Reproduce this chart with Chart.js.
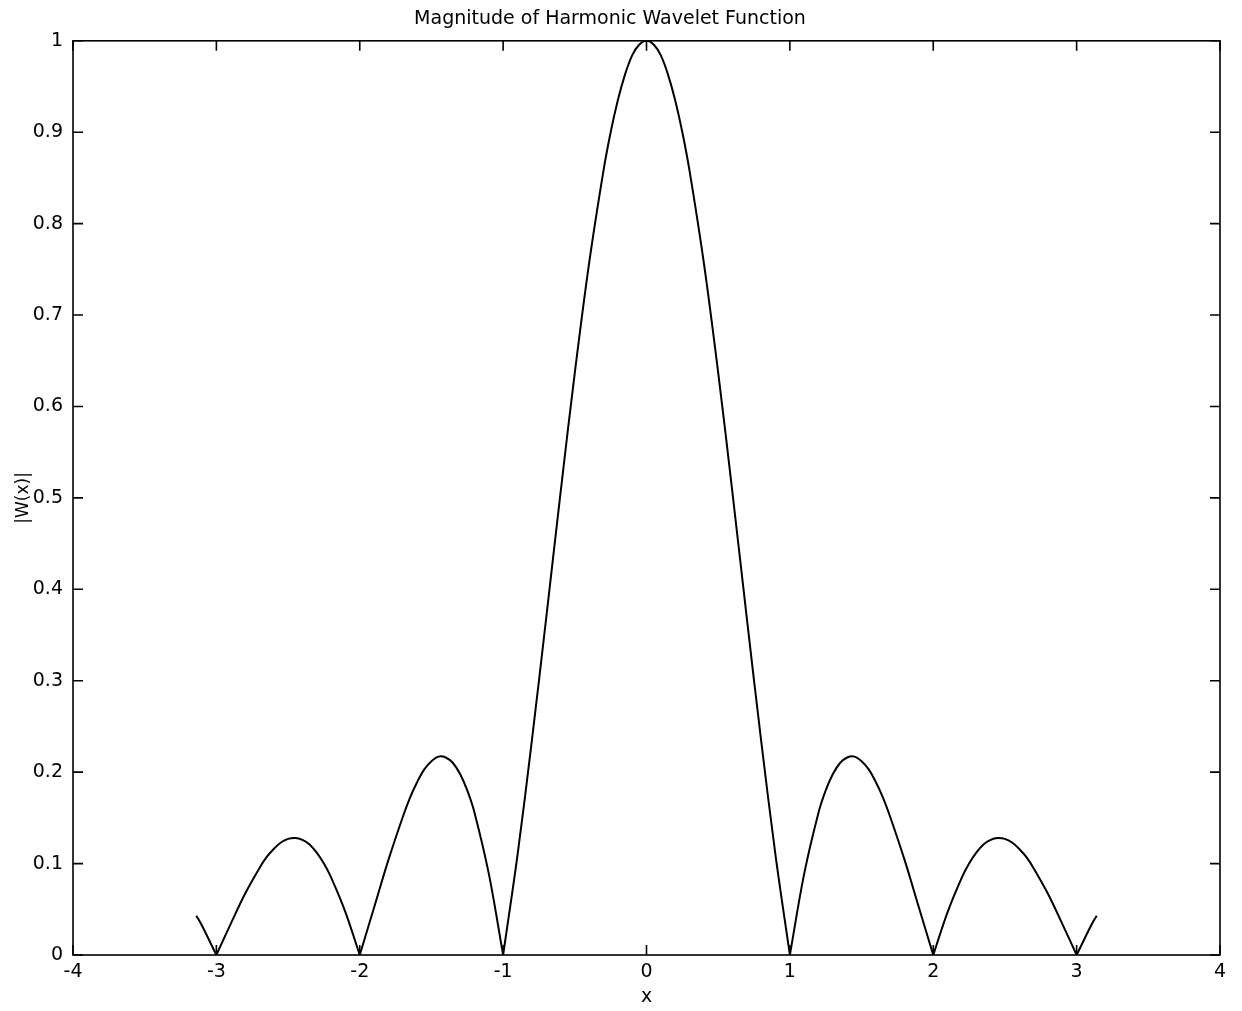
<!DOCTYPE html>
<html>
<head>
<meta charset="utf-8">
<script src="https://cdn.jsdelivr.net/npm/chart.js@4.4.1/dist/chart.umd.min.js"></script>
<style>
  html, body { margin: 0; padding: 0; background: #fff; }
  #wrap { width: 1242px; height: 1011px; }
</style>
</head>
<body>
<div id="wrap"><canvas id="waveletChart"></canvas></div>
<script>
// values
const xValues = [-3.14, -3.1, -3.0, -2.9, -2.8, -2.7, -2.65, -2.6, -2.55, -2.5, -2.45, -2.4, -2.35, -2.3, -2.25, -2.2, -2.1,
  -2.0, -1.9, -1.8, -1.7, -1.65, -1.6, -1.55, -1.5, -1.45, -1.4, -1.35, -1.3, -1.25, -1.2, -1.1,
  -1.0, -0.9, -0.8, -0.7, -0.6, -0.5, -0.4, -0.3, -0.25, -0.2, -0.15, -0.1, -0.05,
  0, 0.05, 0.1, 0.15, 0.2, 0.25, 0.3, 0.4, 0.5, 0.6, 0.7, 0.8, 0.9,
  1.0, 1.1, 1.2, 1.25, 1.3, 1.35, 1.4, 1.45, 1.5, 1.55, 1.6, 1.65, 1.7, 1.8, 1.9,
  2.0, 2.1, 2.2, 2.25, 2.3, 2.35, 2.4, 2.45, 2.5, 2.55, 2.6, 2.65, 2.7, 2.8, 2.9,
  3.0, 3.1, 3.14];
const magnitude = [0.043, 0.032, 0.000, 0.034, 0.067, 0.095, 0.107, 0.116, 0.123, 0.127, 0.128, 0.126, 0.121, 0.112, 0.100, 0.085, 0.047,
  0.000, 0.052, 0.104, 0.151, 0.172, 0.189, 0.203, 0.212, 0.217, 0.216, 0.210, 0.198, 0.180, 0.156, 0.089,
  0.000, 0.109, 0.234, 0.368, 0.505, 0.637, 0.757, 0.858, 0.900, 0.935, 0.963, 0.984, 0.996,
  1.000, 0.996, 0.984, 0.963, 0.935, 0.900, 0.858, 0.757, 0.637, 0.505, 0.368, 0.234, 0.109,
  0.000, 0.089, 0.156, 0.180, 0.198, 0.210, 0.216, 0.217, 0.212, 0.203, 0.189, 0.172, 0.151, 0.104, 0.052,
  0.000, 0.047, 0.085, 0.100, 0.112, 0.121, 0.126, 0.128, 0.127, 0.123, 0.116, 0.107, 0.095, 0.067, 0.034,
  0.000, 0.032, 0.043];
const xTicks = [-4, -3, -2, -1, 0, 1, 2, 3, 4];
const yTicks = [0, 0.1, 0.2, 0.3, 0.4, 0.5, 0.6, 0.7, 0.8, 0.9, 1];

// split the curve at its zeros so each lobe is smoothed on its own and the cusps stay sharp
const lobes = [];
let current = [];
xValues.forEach((x, i) => {
  current.push({ x: x, y: magnitude[i] });
  if (magnitude[i] === 0 && current.length > 1) {
    lobes.push(current);
    current = [{ x: x, y: 0 }];
  }
});
if (current.length > 1) lobes.push(current);

// matlab style box with inward ticks on all four sides
const boxTicks = {
  id: 'boxTicks',
  afterDraw(chart) {
    const ctx = chart.ctx;
    const a = chart.chartArea;
    const sx = chart.scales.x, sy = chart.scales.y;
    const len = 10;
    ctx.save();
    ctx.strokeStyle = '#000';
    ctx.lineWidth = 1.6;
    ctx.strokeRect(a.left, a.top, a.right - a.left, a.bottom - a.top);
    ctx.beginPath();
    xTicks.forEach(v => {
      const px = sx.getPixelForValue(v);
      ctx.moveTo(px, a.bottom); ctx.lineTo(px, a.bottom - len);
      ctx.moveTo(px, a.top); ctx.lineTo(px, a.top + len);
    });
    yTicks.forEach(v => {
      const py = sy.getPixelForValue(v);
      ctx.moveTo(a.left, py); ctx.lineTo(a.left + len, py);
      ctx.moveTo(a.right, py); ctx.lineTo(a.right - len, py);
    });
    ctx.stroke();
    ctx.restore();
  }
};

const font = 'DejaVu Sans, Arial, sans-serif';

new Chart(document.getElementById('waveletChart'), {
  type: 'scatter',
  data: {
    datasets: lobes.map(pts => ({
      label: '|W(x)|',
      data: pts,
      showLine: true,
      borderColor: '#000',
      borderWidth: 2,
      pointRadius: 0,
      tension: 0.35,
      fill: false
    }))
  },
  options: {
    responsive: true,
    maintainAspectRatio: false,
    animation: false,
    layout: { padding: { left: 0, right: 22, top: 0, bottom: 0 } },
    plugins: {
      legend: { display: false },
      tooltip: { enabled: false },
      title: {
        display: true,
        text: 'Magnitude of Harmonic Wavelet Function',
        color: '#000',
        font: { family: font, size: 19, weight: 'normal' },
        padding: { top: 8, bottom: 10 }
      }
    },
    scales: {
      x: {
        type: 'linear',
        min: -4,
        max: 4,
        afterBuildTicks: s => { s.ticks = xTicks.map(v => ({ value: v })); },
        afterFit: s => { s.height = 56; },
        grid: { display: false, drawTicks: false },
        border: { display: false },
        ticks: { color: '#000', padding: 6, font: { family: font, size: 19 }, callback: v => String(v) },
        title: {
          display: true, text: 'x', color: '#000',
          font: { family: font, size: 19 },
          padding: { top: 0, bottom: 3 }
        }
      },
      y: {
        type: 'linear',
        min: 0,
        max: 1,
        afterBuildTicks: s => { s.ticks = yTicks.map(v => ({ value: v })); },
        afterFit: s => { s.width = 73; },
        grid: { display: false, drawTicks: false },
        border: { display: false },
        ticks: { color: '#000', padding: 10, font: { family: font, size: 19 }, callback: v => String(v) },
        title: {
          display: true, text: '|W(x)|', color: '#000',
          font: { family: font, size: 17 },
          padding: { top: 13, bottom: 0 }
        }
      }
    }
  },
  plugins: [boxTicks]
});
</script>
</body>
</html>
